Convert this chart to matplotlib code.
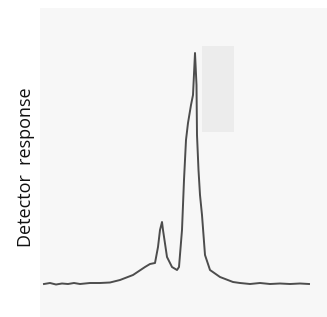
import matplotlib
matplotlib.use("Agg")
import matplotlib.pyplot as plt
from matplotlib.patches import Rectangle

# trace (arbitrary units)
time = [4, 10, 16, 22, 28, 34, 40, 50, 60, 70, 80, 93, 105, 110, 115, 118, 120,
        122, 123, 127, 132, 137, 139, 142, 144, 146, 148, 151, 153, 155, 156.5,
        157, 158.5, 160, 162, 165, 170, 180, 193, 200, 210, 220, 230, 240,
        250, 260, 269]
response = [16, 17, 15.5, 16.5, 16, 17, 16, 17, 17, 17.5, 20, 25, 33, 36, 37,
            53, 70, 78, 70, 43, 33, 30, 33, 70, 120, 160, 177, 195, 205, 247,
            215, 165, 130, 105, 85, 45, 30, 23, 18, 17, 16, 17, 16, 16.5, 16,
            16.5, 16]

fig = plt.figure(figsize=(3.27, 3.17), dpi=100)
ax = fig.add_axes([40/327, 0, 287/327, 309/317])
ax.set_facecolor("#f7f7f7")

ax.add_patch(Rectangle((162, 168), 32, 86, facecolor="#ececec", edgecolor="none", zorder=1))
ax.plot(time, response, color="#4d4d4d", lw=1.4, zorder=2)

ax.set_xlim(0, 287)
ax.set_ylim(-17, 292)
ax.set_xticks([])
ax.set_yticks([])
for s in ax.spines.values():
    s.set_visible(False)

ax.set_ylabel("Detector  response", fontsize=13, family="Open Sans", color="#111111")
ax.yaxis.set_label_coords(-0.016, 0.485)

fig.savefig("out.png", dpi=100)
